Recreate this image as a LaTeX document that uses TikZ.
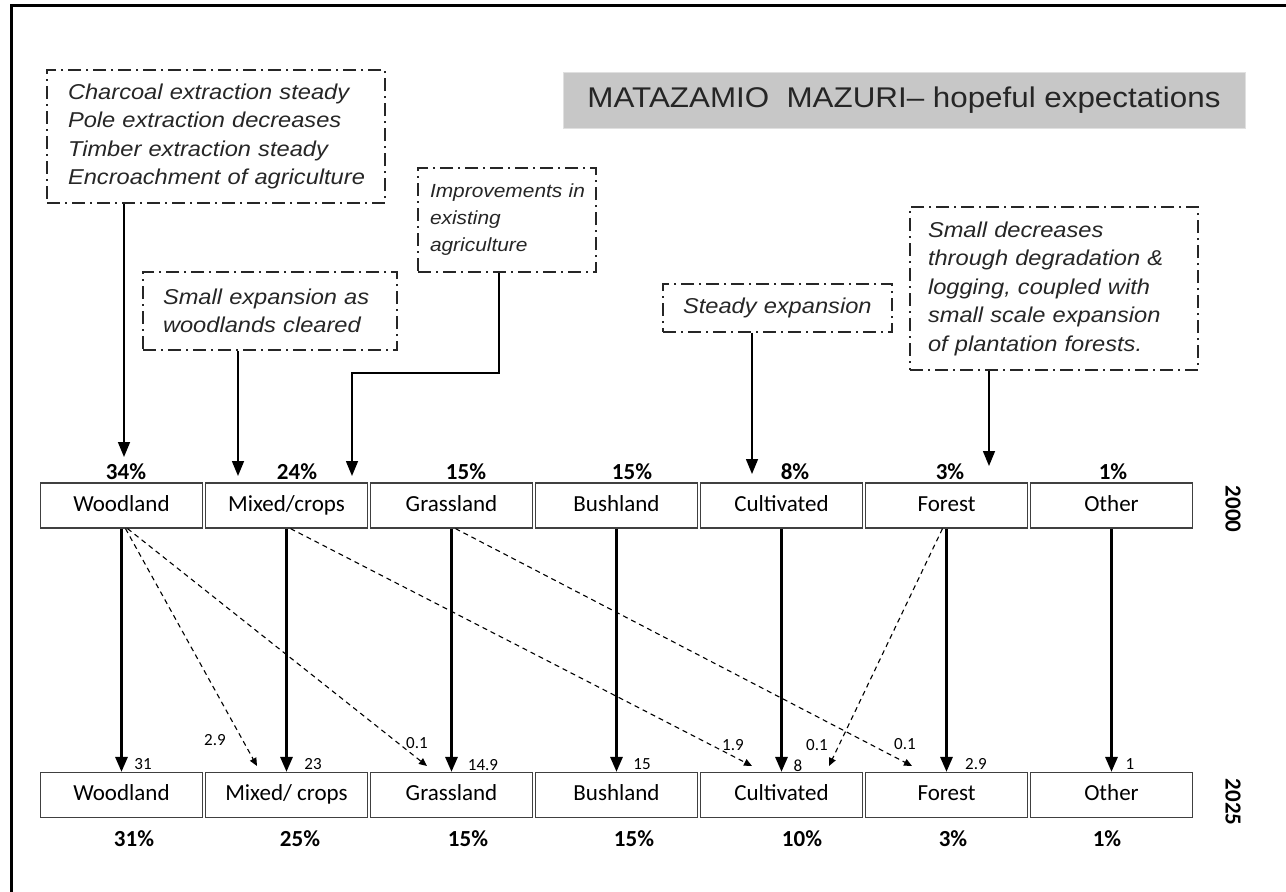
\documentclass[tikz,border=0pt]{standalone}
\usepackage{fontspec}
\setmainfont{Carlito}
\newfontfamily\notefont[WordSpace=0.5, FakeStretch=1.1]{Liberation Sans}
\newfontfamily\titlefont[FakeStretch=1.1]{Liberation Sans}
\usetikzlibrary{arrows.meta}
\begin{document}
\begin{tikzpicture}[x=1pt,y=-1pt,
 notebox/.style={draw=black!85, line width=1.5pt, dash pattern=on 13pt off 5pt on 2pt off 5pt, inner ysep=0pt, align=left, font=\notefont\itshape\fontsize{21.5}{28.5}\selectfont, text=black!85},
 landbox/.style={draw=black!75, line width=1.2pt, minimum width=162pt, minimum height=45pt, inner sep=0pt, text height=15pt, text depth=4pt, font=\fontsize{23}{26}\selectfont},
 pct/.style={font=\bfseries\fontsize{23}{25}\selectfont, inner sep=0pt},
 small/.style={font=\fontsize{17}{19}\selectfont, inner sep=0pt},
 thickarr/.style={line width=3pt, -{Triangle[length=15pt,width=12pt]}},
 notearr/.style={line width=1.5pt, -{Triangle[length=15pt,width=12pt]}},
 dasharr/.style={line width=1.1pt, dash pattern=on 5pt off 4pt, -{Triangle[length=8pt,width=7pt]}},
]
\useasboundingbox (0,0) rectangle (1286,892);
\fill[white] (0,0) rectangle (1286,892);
% frame
\draw[line width=3pt] (11,892) -- (11,5) -- (1286,5);

% title
\node[fill=black!22, draw=black!12, minimum width=682pt, minimum height=56pt, inner sep=0pt,
      font=\titlefont\fontsize{28.5}{30}\selectfont, text=black!85] (title) at (904,100)
      {MATAZAMIO\ \ MAZURI– hopeful expectations};

% note boxes
\node[notebox, minimum width=338pt, minimum height=133pt, inner xsep=21pt, text width=296pt] (n1) at (216,136.5)
 {\mbox{Charcoal extraction steady}\\\mbox{Pole extraction decreases}\\\mbox{Timber extraction steady}\\\mbox{Encroachment of agriculture}};
\node[notebox, minimum width=254pt, minimum height=78pt, inner xsep=20pt, text width=214pt] (n2) at (270,311)
 {\mbox{Small expansion as}\\\mbox{woodlands cleared}};
\node[notebox, minimum width=178pt, minimum height=104pt, inner xsep=12pt, text width=154pt, font=\notefont\itshape\fontsize{19}{27}\selectfont] (n3) at (507,220)
 {\mbox{Improvements in}\\\mbox{existing}\\\mbox{agriculture}};
\node[notebox, minimum width=229pt, minimum height=48pt, inner xsep=20pt, text width=189pt] (n4) at (777.5,308)
 {\mbox{Steady expansion}};
\node[notebox, minimum width=288pt, minimum height=163pt, inner xsep=18pt, text width=252pt] (n5) at (1054,288.5)
 {\mbox{Small decreases}\\\mbox{through degradation \&}\\\mbox{logging, coupled with}\\\mbox{small scale expansion}\\\mbox{of plantation forests.}};

% 2000 row
\node[landbox] (a1) at (121.5,505.5) {Woodland};
\node[landbox] (a2) at (286.5,505.5) {Mixed/crops};
\node[landbox] (a3) at (451.5,505.5) {Grassland};
\node[landbox] (a4) at (616.5,505.5) {Bushland};
\node[landbox] (a5) at (781.5,505.5) {Cultivated};
\node[landbox] (a6) at (946.5,505.5) {Forest};
\node[landbox] (a7) at (1111.5,505.5) {Other};
% 2025 row
\node[landbox] (b1) at (121.5,795) {Woodland};
\node[landbox] (b2) at (286.5,795) {Mixed/ crops};
\node[landbox] (b3) at (451.5,795) {Grassland};
\node[landbox] (b4) at (616.5,795) {Bushland};
\node[landbox] (b5) at (781.5,795) {Cultivated};
\node[landbox] (b6) at (946.5,795) {Forest};
\node[landbox] (b7) at (1111.5,795) {Other};

% percentages
\node[pct] (p1) at (126,472) {34\%};
\node[pct] (p2) at (297,472) {24\%};
\node[pct] (p3) at (466,472) {15\%};
\node[pct] (p4) at (632,472) {15\%};
\node[pct] (p5) at (795,472) {8\%};
\node[pct] (p6) at (950,472) {3\%};
\node[pct] (p7) at (1113,472) {1\%};
\node[pct] (q1) at (134,839) {31\%};
\node[pct] (q2) at (300,839) {25\%};
\node[pct] (q3) at (468,839) {15\%};
\node[pct] (q4) at (634,839) {15\%};
\node[pct] (q5) at (802,839) {10\%};
\node[pct] (q6) at (953,839) {3\%};
\node[pct] (q7) at (1107,839) {1\%};

% years
\node[pct, rotate=-90] (y1) at (1233,509) {2000};
\node[pct, rotate=-90] (y2) at (1233,802) {2025};

% note arrows
\coordinate (t1) at (124,457);
\coordinate (t2) at (238,476);
\coordinate (k3) at (499,373);
\coordinate (t3) at (352,476);
\coordinate (t5) at (752,474);
\coordinate (t6) at (989,466);
\draw[notearr] (n1.south -| t1) -- (t1);
\draw[notearr] (n2.south -| t2) -- (t2);
\draw[notearr] (n3.south -| k3) -- (k3) -- (k3 -| t3) -- (t3);
\draw[notearr] (n4.south -| t5) -- (t5);
\draw[notearr] (n5.south -| t6) -- (t6);

% thick arrows
\foreach \i in {1,...,7} { \draw[thickarr] (a\i.south) -- (b\i.north); }

% dashed arrows
\coordinate (d1) at (257,766);
\coordinate (d2) at (427,766);
\coordinate (d3) at (752,766);
\coordinate (d4) at (912,766);
\coordinate (d5) at (829,766);
\draw[dasharr] ([xshift=4pt]a1.south) -- (d1);
\draw[dasharr] ([xshift=6pt]a1.south) -- (d2);
\draw[dasharr] ([xshift=4pt]a2.south) -- (d3);
\draw[dasharr] ([xshift=4pt]a3.south) -- (d4);
\draw[dasharr] ([xshift=-4pt]a6.south) -- (d5);

% flow labels
\node[small] (f1) at (143,764) {31};
\node[small] (f2) at (313,764) {23};
\node[small] (f3) at (483,765) {14.9};
\node[small] (f4) at (642,764) {15};
\node[small] (f5) at (798,766) {8};
\node[small] (f6) at (976,764) {2.9};
\node[small] (f7) at (1130,764) {1};
\node[small] (g1) at (215,740) {2.9};
\node[small] (g2) at (417,743) {0.1};
\node[small] (g3) at (733,745) {1.9};
\node[small] (g4) at (817,745) {0.1};
\node[small] (g5) at (905,744) {0.1};
\end{tikzpicture}
\end{document}
